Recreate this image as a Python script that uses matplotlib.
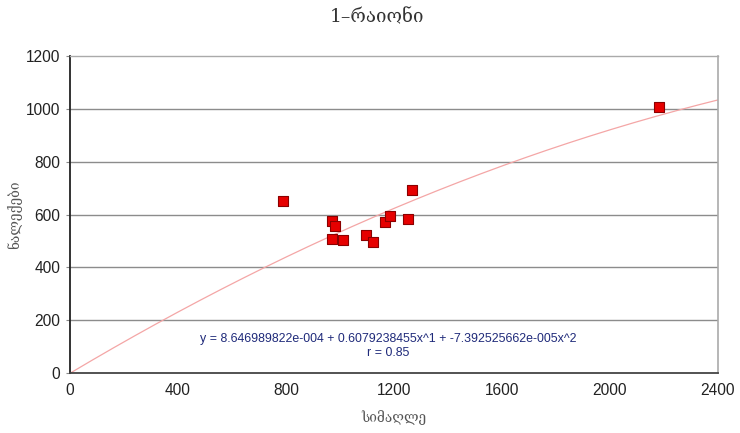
import numpy as np
import matplotlib
matplotlib.use("Agg")
import matplotlib.pyplot as plt

title = "1–რაიონი"
xlabel = "სიმაღლე"
ylabel = "ნალექები"

heights = [789, 970, 981, 970, 1011, 1096, 1122, 1167, 1185, 1252, 1267, 2181]
precip = [653, 577, 555, 509, 502, 521, 498, 570, 596, 585, 691, 1008]

coef = [8.646989822e-004, 0.6079238455, -7.392525662e-005]
eq_text = "y = 8.646989822e-004 + 0.6079238455x^1 + -7.392525662e-005x^2"
r_text = "r = 0.85"

xticks = [0, 400, 800, 1200, 1600, 2000, 2400]
yticks = [0, 200, 400, 600, 800, 1000, 1200]

fam = ["Liberation Sans", "DejaVu Sans"]
geo_fam = ["DejaVu Serif", "DejaVu Sans"]

fig = plt.figure(figsize=(7.4, 4.33), dpi=100)
ax = fig.add_axes([0.0946, 0.138, 0.8754, 0.733])

ax.set_xlim(0, 2400)
ax.set_ylim(0, 1200)

for yv in yticks[1:-1]:
    ax.axhline(yv, color="#8c8c8c", lw=1.0, zorder=1)

xs = np.linspace(0, 2400, 300)
ys = coef[0] + coef[1] * xs + coef[2] * xs ** 2
ax.plot(xs, ys, color="#f4a6a6", lw=0.9, zorder=2)

ax.scatter(heights, precip, marker="s", s=52, facecolor="#e60000",
           edgecolor="#8b0000", linewidth=0.8, zorder=3)

ax.spines["left"].set_color("#222222")
ax.spines["bottom"].set_color("#444444")
ax.spines["left"].set_linewidth(1.3)
ax.spines["bottom"].set_linewidth(1.3)
ax.spines["right"].set_color("#aaaaaa")
ax.spines["top"].set_color("#aaaaaa")
ax.spines["right"].set_linewidth(1.2)
ax.spines["top"].set_linewidth(1.0)

ax.set_xticks(xticks)
ax.set_yticks(yticks)
ax.set_xticklabels([str(t) for t in xticks], fontfamily=fam, fontsize=11.2, color="#222222")
ax.set_yticklabels([str(t) for t in yticks], fontfamily=fam, fontsize=11.2, color="#222222")
ax.tick_params(axis="y", length=3, color="#888888", pad=4)
ax.tick_params(axis="x", length=0, pad=7)

fig.text(377 / 740, 1 - 17 / 433, title, fontfamily=geo_fam, fontsize=13.5,
         color="#333333", ha="center", va="center")
ax.set_xlabel(xlabel, fontfamily=geo_fam, fontsize=9.8, color="#555555", labelpad=9)
ax.set_ylabel(ylabel, fontfamily=geo_fam, fontsize=9.8, color="#555555")
ax.yaxis.set_label_coords(-0.074, 0.5)

ax.text(1178, 128, eq_text, ha="center", va="center", fontsize=8.9,
        color="#1f2a7a", fontfamily=fam, zorder=4)
ax.text(1178, 78, r_text, ha="center", va="center", fontsize=8.9,
        color="#1f2a7a", fontfamily=fam, zorder=4)

fig.savefig("out.png", dpi=100)
